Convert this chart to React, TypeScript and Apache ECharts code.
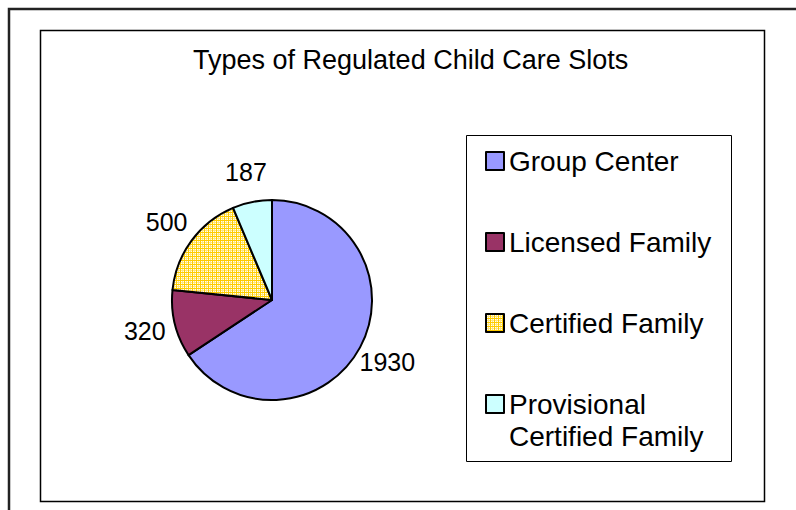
import React, { useEffect, useRef } from "react";
import * as echarts from "echarts";

const titleText = "Types of Regulated Child Care Slots";
const categories = ["Group Center", "Licensed Family", "Certified Family", "Provisional Certified Family"];
const legendLabels = ["Group Center", "Licensed Family", "Certified Family", "\nProvisional\nCertified Family"];
const values = [1930, 320, 500, 187];
const plainColors = ["#9999FF", "#993366", "pattern", "#CCFFFF"];

const FONT = "'Liberation Sans', Arial, Helvetica, sans-serif";

function makePattern(): any {
  const c = document.createElement("canvas");
  c.width = 4;
  c.height = 4;
  const ctx = c.getContext("2d")!;
  ctx.fillStyle = "#FFFFF0";
  ctx.fillRect(0, 0, 4, 4);
  ctx.fillStyle = "#FFE680";
  ctx.fillRect(2, 0, 1, 4);
  ctx.fillRect(0, 2, 4, 1);
  ctx.fillStyle = "#FFCC00";
  ctx.fillRect(0, 0, 1, 4);
  ctx.fillRect(0, 0, 4, 1);
  return { image: c, repeat: "repeat" };
}

export default function App() {
  const ref = useRef<HTMLDivElement>(null);
  useEffect(() => {
    if (!ref.current) return;
    const chart = echarts.init(ref.current, undefined, { renderer: "svg" });
    const pattern = makePattern();
    const colors = plainColors.map((c) => (c === "pattern" ? pattern : c));
    const data = categories.map((name, i) => ({
      name,
      value: values[i],
      itemStyle: { color: colors[i] },
    }));
    const legendFmt = (name: string) => legendLabels[categories.indexOf(name)];
    const legendText = { fontSize: 28, lineHeight: 32, color: "#000", fontFamily: FONT };
    const legendCommon = {
      orient: "vertical",
      left: 485,
      padding: 0,
      itemWidth: 18,
      itemHeight: 18,
      icon: "rect",
      selectedMode: false,
      formatter: legendFmt,
      itemStyle: { borderColor: "#000", borderWidth: 2 },
      textStyle: legendText,
    };
    chart.setOption({
      animation: false,
      backgroundColor: "#fff",
      title: {
        text: titleText,
        left: 193,
        top: 46,
        padding: 0,
        textStyle: { fontSize: 27, fontWeight: "normal", color: "#000", fontFamily: FONT },
      },
      legend: [
        {
          ...legendCommon,
          top: 145,
          itemGap: 49,
          data: categories.slice(0, 3),
        },
        {
          ...legendCommon,
          top: 356,
          data: categories.slice(3),
        },
      ],
      graphic: [
        { type: "rect", shape: { x: 9, y: 9, width: 900, height: 900 }, style: { fill: "none", stroke: "#222", lineWidth: 2.5 }, silent: true },
        { type: "rect", shape: { x: 40.5, y: 30.5, width: 724, height: 471 }, style: { fill: "none", stroke: "#000", lineWidth: 1.5 }, silent: true },
        { type: "rect", shape: { x: 466.5, y: 135.5, width: 265, height: 326 }, style: { fill: "none", stroke: "#000", lineWidth: 1 }, silent: true },
      ],
      series: [
        {
          type: "pie",
          center: [272, 300],
          radius: 100,
          startAngle: 90,
          clockwise: true,
          avoidLabelOverlap: false,
          silent: true,
          data,
          itemStyle: { borderColor: "#000", borderWidth: 2 },
          label: {
            show: true,
            position: "outside",
            formatter: "{c}",
            fontSize: 25,
            color: "#000",
            fontFamily: FONT,
            distanceToLabelLine: 0,
          },
          labelLine: { show: false, length: 31, length2: 0 },
          labelLayout: () => ({ align: "center" }),
          emphasis: { disabled: true },
        },
      ],
    } as any);
    return () => chart.dispose();
  }, []);
  return (
    <div
      ref={ref}
      style={{ position: "absolute", left: 0, top: 0, width: 796, height: 510 }}
    />
  );
}
